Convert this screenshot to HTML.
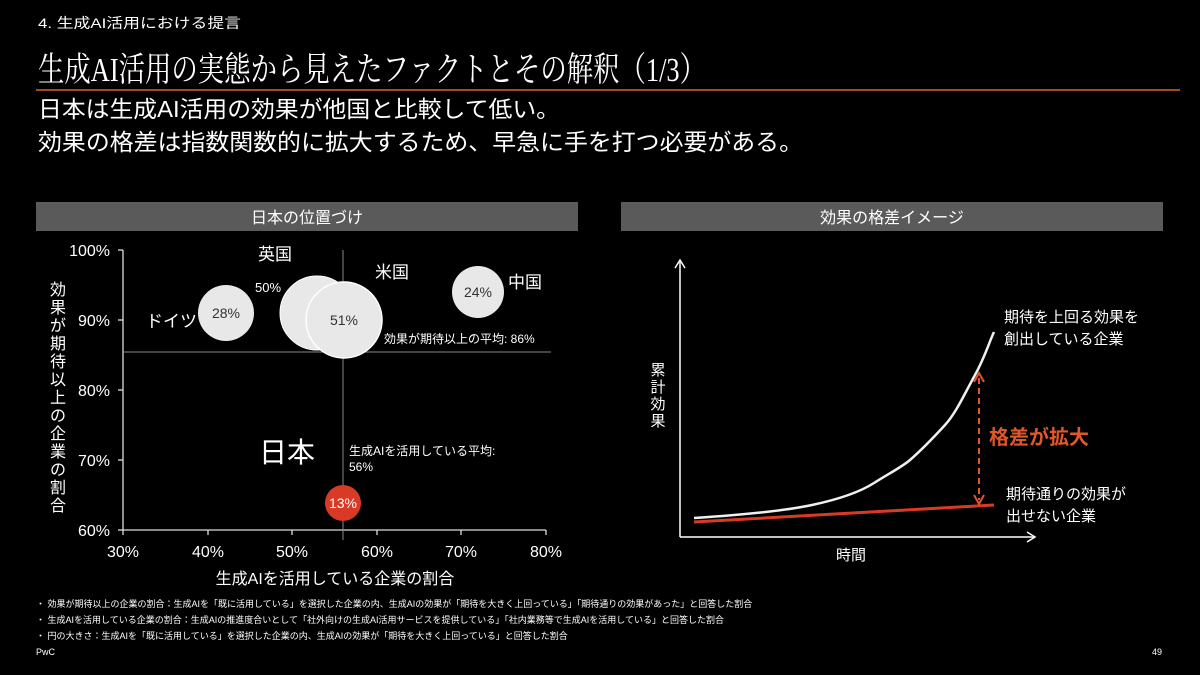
<!DOCTYPE html>
<html><head><meta charset="utf-8"><style>
html,body{margin:0;padding:0;background:#000;}
svg{display:block;font-family:"Liberation Sans","Noto Sans CJK JP",sans-serif;}
</style></head><body>
<svg width="1200" height="675" viewBox="0 0 1200 675" xmlns="http://www.w3.org/2000/svg">
<rect width="1200" height="675" fill="#000"/>
<text x="38" y="28" fill="#fff" font-size="14" textLength="203" lengthAdjust="spacingAndGlyphs">4. 生成AI活用における提言</text>
<text x="38" y="81" fill="#fff" font-size="34" font-family="Liberation Serif,Noto Serif CJK SC,serif" textLength="668" lengthAdjust="spacingAndGlyphs">生成AI活用の実態から見えたファクトとその解釈（1/3）</text>
<rect x="36" y="89" width="1144" height="2" fill="#a04a22"/>
<text x="38" y="117" fill="#fff" font-size="23" textLength="522" lengthAdjust="spacingAndGlyphs">日本は生成AI活用の効果が他国と比較して低い。</text>
<text x="38" y="150" fill="#fff" font-size="23" textLength="765" lengthAdjust="spacingAndGlyphs">効果の格差は指数関数的に拡大するため、早急に手を打つ必要がある。</text>
<rect x="36" y="202" width="542" height="29" fill="#5a5a5a"/>
<text x="307" y="223" fill="#fff" font-size="16" text-anchor="middle">日本の位置づけ</text>
<rect x="621" y="202" width="542" height="29" fill="#5a5a5a"/>
<text x="892" y="223" fill="#fff" font-size="16" text-anchor="middle">効果の格差イメージ</text>

<!-- left chart -->
<g stroke="#ddd" stroke-width="1.3">
<line x1="123" y1="250" x2="123" y2="530"/>
<line x1="123" y1="530" x2="546" y2="530"/>
<line x1="123" y1="250" x2="118" y2="250"/><line x1="123" y1="320" x2="118" y2="320"/><line x1="123" y1="390" x2="118" y2="390"/><line x1="123" y1="460" x2="118" y2="460"/><line x1="123" y1="530" x2="118" y2="530"/>
<line x1="123" y1="530" x2="123" y2="535"/><line x1="208" y1="530" x2="208" y2="535"/><line x1="292" y1="530" x2="292" y2="535"/><line x1="377" y1="530" x2="377" y2="535"/><line x1="461" y1="530" x2="461" y2="535"/><line x1="546" y1="530" x2="546" y2="535"/>
</g>
<g stroke="#888" stroke-width="1">
<line x1="343" y1="250" x2="343" y2="540"/>
<line x1="123" y1="352" x2="551" y2="352"/>
</g>
<g fill="#fff" font-size="16" text-anchor="end">
<text x="110" y="256">100%</text><text x="110" y="326">90%</text><text x="110" y="396">80%</text><text x="110" y="466">70%</text><text x="110" y="536">60%</text>
</g>
<g fill="#fff" font-size="16" text-anchor="middle">
<text x="123" y="557">30%</text><text x="208" y="557">40%</text><text x="292" y="557">50%</text><text x="377" y="557">60%</text><text x="461" y="557">70%</text><text x="546" y="557">80%</text>
<text x="335" y="584">生成AIを活用している企業の割合</text>
</g>
<g fill="#fff" font-size="16" text-anchor="middle">
<text x="58" y="295">効</text><text x="58" y="313">果</text><text x="58" y="331">が</text><text x="58" y="349">期</text><text x="58" y="367">待</text><text x="58" y="385">以</text><text x="58" y="403">上</text><text x="58" y="421">の</text><text x="58" y="439">企</text><text x="58" y="457">業</text><text x="58" y="475">の</text><text x="58" y="493">割</text><text x="58" y="511">合</text>
</g>
<circle cx="226" cy="313" r="28" fill="#e8e8e8"/>
<circle cx="317" cy="313" r="37" fill="#e8e8e8" stroke="#fff"/>
<circle cx="344" cy="320" r="38" fill="#e8e8e8" stroke="#fff" stroke-width="1.5"/>
<circle cx="478" cy="292" r="26" fill="#e8e8e8"/>
<circle cx="343" cy="503" r="18" fill="#d93a26"/>
<g font-size="14" text-anchor="middle">
<text x="226" y="318" fill="#333">28%</text>
<text x="344" y="325" fill="#333">51%</text>
<text x="478" y="297" fill="#333">24%</text>
<text x="343" y="508" fill="#fff">13%</text>
</g>
<g fill="#fff" font-size="17">
<text x="258" y="260">英国</text>
<text x="375" y="278">米国</text>
<text x="508" y="288">中国</text>
<text x="146" y="327">ドイツ</text>
</g>
<text x="255" y="292" fill="#fff" font-size="13">50%</text>
<text x="384" y="343" fill="#fff" font-size="12">効果が期待以上の平均: 86%</text>
<text x="349" y="455" fill="#fff" font-size="12">生成AIを活用している平均:</text>
<text x="349" y="471" fill="#fff" font-size="12">56%</text>
<text x="259" y="462" fill="#fff" font-size="28">日本</text>

<!-- right chart -->
<g stroke="#fff" stroke-width="1.5" fill="none">
<line x1="680" y1="262" x2="680" y2="537"/>
<polyline points="675,268 680,260 685,268"/>
<line x1="680" y1="537" x2="1034" y2="537"/>
<polyline points="1027,532 1035,537 1027,542"/>
</g>
<line x1="694" y1="522" x2="994" y2="505" stroke="#d93a26" stroke-width="3"/>
<path d="M694,518 C740,515 784,511 812,505 S860,492 874,483 S902,467 910,460 S934,437 945,425 S965,393 975,375 S990,340 994,332" fill="none" stroke="#f0f0f0" stroke-width="2.5"/>
<line x1="979" y1="378" x2="979" y2="500" stroke="#e0572a" stroke-width="2" stroke-dasharray="6,4"/>
<polyline points="974,382 979,373 984,382" fill="none" stroke="#e0572a" stroke-width="2"/>
<polyline points="974,495 979,504 984,495" fill="none" stroke="#e0572a" stroke-width="2"/>
<text x="989" y="444" fill="#e0572a" font-size="20" font-weight="bold">格差が拡大</text>
<g fill="#fff" font-size="15">
<text x="1004" y="322">期待を上回る効果を</text>
<text x="1004" y="344">創出している企業</text>
<text x="1006" y="499">期待通りの効果が</text>
<text x="1006" y="521">出せない企業</text>
<text x="836" y="560">時間</text>
</g>
<g fill="#fff" font-size="15" text-anchor="middle">
<text x="658" y="375">累</text><text x="658" y="392">計</text><text x="658" y="409">効</text><text x="658" y="426">果</text>
</g>

<g fill="#fff" font-size="9">
<text x="36" y="607">・ 効果が期待以上の企業の割合：生成AIを「既に活用している」を選択した企業の内、生成AIの効果が「期待を大きく上回っている」「期待通りの効果があった」と回答した割合</text>
<text x="36" y="623">・ 生成AIを活用している企業の割合：生成AIの推進度合いとして「社外向けの生成AI活用サービスを提供している」「社内業務等で生成AIを活用している」と回答した割合</text>
<text x="36" y="639">・ 円の大きさ：生成AIを「既に活用している」を選択した企業の内、生成AIの効果が「期待を大きく上回っている」と回答した割合</text>
<text x="36" y="655">PwC</text>
<text x="1162" y="655" text-anchor="end">49</text>
</g>
</svg>
</body></html>
